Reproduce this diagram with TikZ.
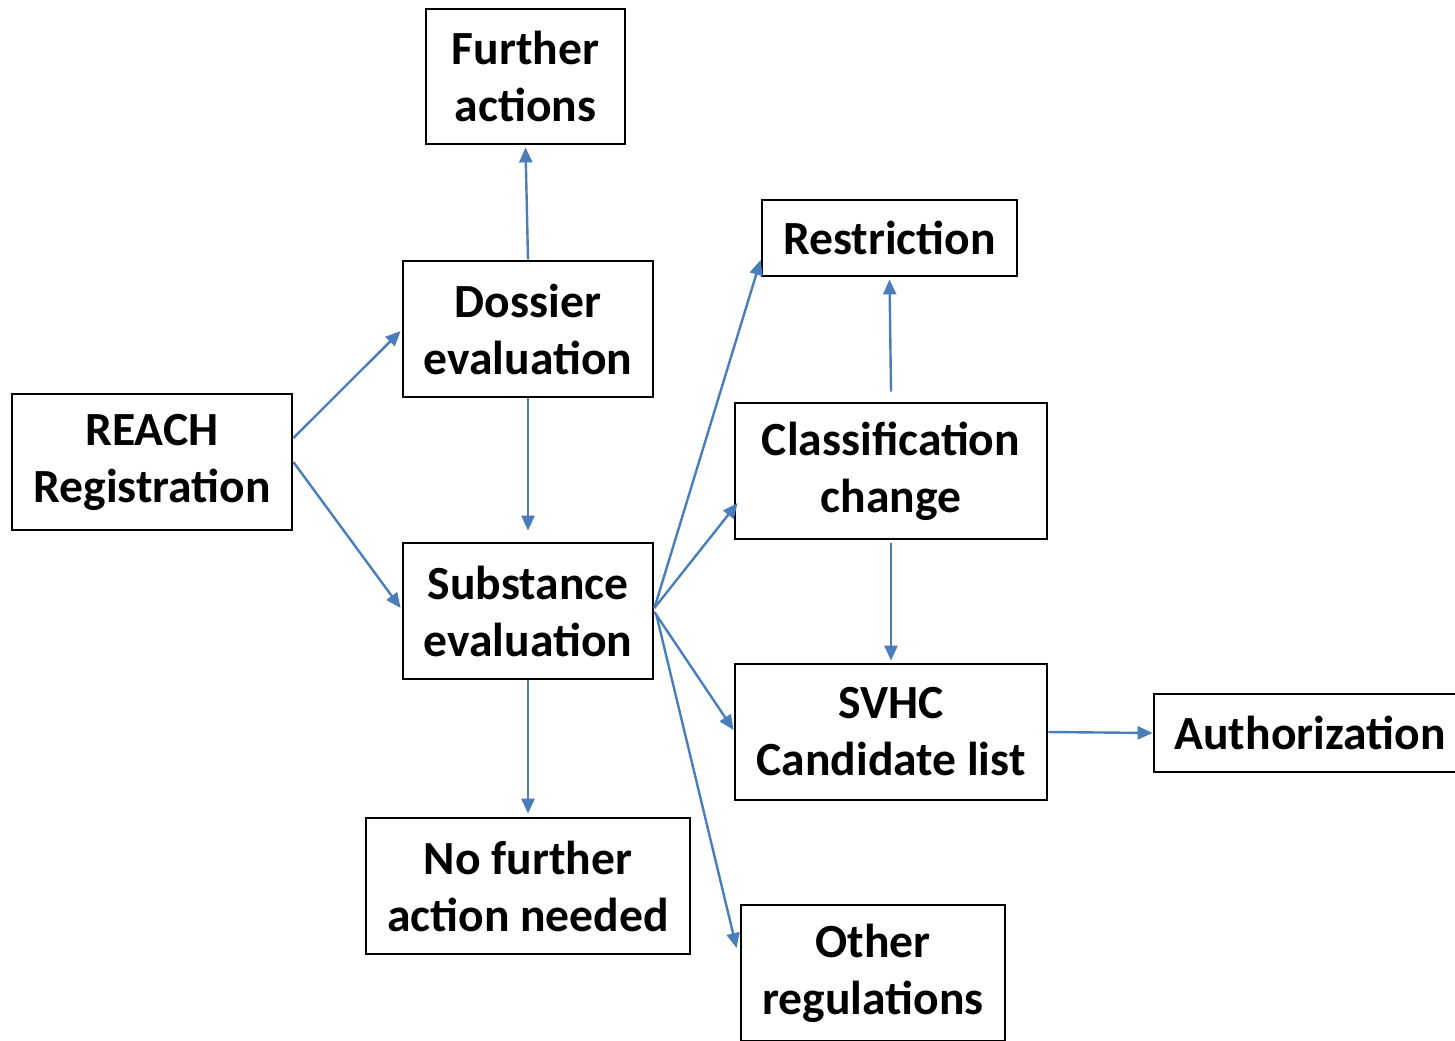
\documentclass[tikz,border=0pt]{standalone}
\usepackage{fontspec}
\setmainfont{Carlito}
\usetikzlibrary{arrows.meta,calc}
\definecolor{arrowblue}{RGB}{74,126,187}
\tikzset{
  box/.style={draw=black, line width=1.4pt, fill=white, align=center, inner sep=0pt,
    font=\fontsize{23.8pt}{28.5pt}\selectfont\bfseries, text=black},
  twoline/.style={box, execute at begin node={\vspace*{4pt}}},
  conn/.style={draw=arrowblue, line width=1.2pt, -{Triangle[length=7.5pt,width=6.5pt]}}
}
\begin{document}
\begin{tikzpicture}[x=0.5pt,y=-0.5pt]
\useasboundingbox (0,0) rectangle (1455,1040);
\clip (0,0) rectangle (1455,1040);
\fill[white] (0,0) rectangle (1455,1040);
\node[twoline, minimum width=140pt, minimum height=68pt] (reach) at (152,462) {REACH\\Registration};
\node[twoline, minimum width=125pt, minimum height=68pt] (dossier) at (528,329) {Dossier\\evaluation};
\node[twoline, minimum width=99.5pt, minimum height=67.5pt] (further) at (525.5,76.5) {Further\\actions};
\node[twoline, minimum width=125pt, minimum height=68pt] (substance) at (528,611) {Substance\\evaluation};
\node[twoline, minimum width=162pt, minimum height=68pt] (nofurther) at (528,886) {No further\\action needed};
\node[box, minimum width=127.5pt, minimum height=38pt] (restriction) at (889.5,238) {Restriction};
\node[twoline, minimum width=156pt, minimum height=68pt] (classif) at (891,471) {Classification\\change};
\node[twoline, minimum width=156pt, minimum height=68pt] (svhc) at (891,732) {SVHC\\Candidate list};
\node[box, minimum width=156pt, minimum height=39pt] (auth) at (1310,733) {Authorization};
\node[twoline, minimum width=132pt, minimum height=68pt] (other) at (873,973) {Other\\regulations};

\draw[conn] ($(reach.east)+(0,-24)$) -- ($(dossier.west)+(-1,2)$);
\draw[conn] (reach.east) -- ($(substance.west)+(-1,-3)$);
\draw[conn] (dossier.south) -- ($(substance.north)+(0,-11)$);
\draw[conn] (substance.south) -- ($(nofurther.north)+(0,-3)$);
\draw[conn] (dossier.north) -- ($(further.south)+(0,2)$);
\draw[conn] ($(substance.east)+(0,-3)$) -- ($(restriction.west)+(0,22)$);
\draw[conn] ($(substance.east)+(0,-3)$) -- ($(classif.west)+(4,32)$);
\draw[conn] ($(substance.east)+(0,1)$) -- ($(svhc.west)+(0,-2)$);
\draw[conn] ($(substance.east)+(2,4)$) -- ($(other.west)+(-3,-25)$);
\draw[conn] ($(classif.north)+(0,-10)$) -- ($(restriction.south)+(0,2)$);
\draw[conn] ($(classif.south)+(0,3)$) -- ($(svhc.north)+(0,-2)$);
\draw[conn] (svhc.east) -- (auth.west);
\end{tikzpicture}
\end{document}
